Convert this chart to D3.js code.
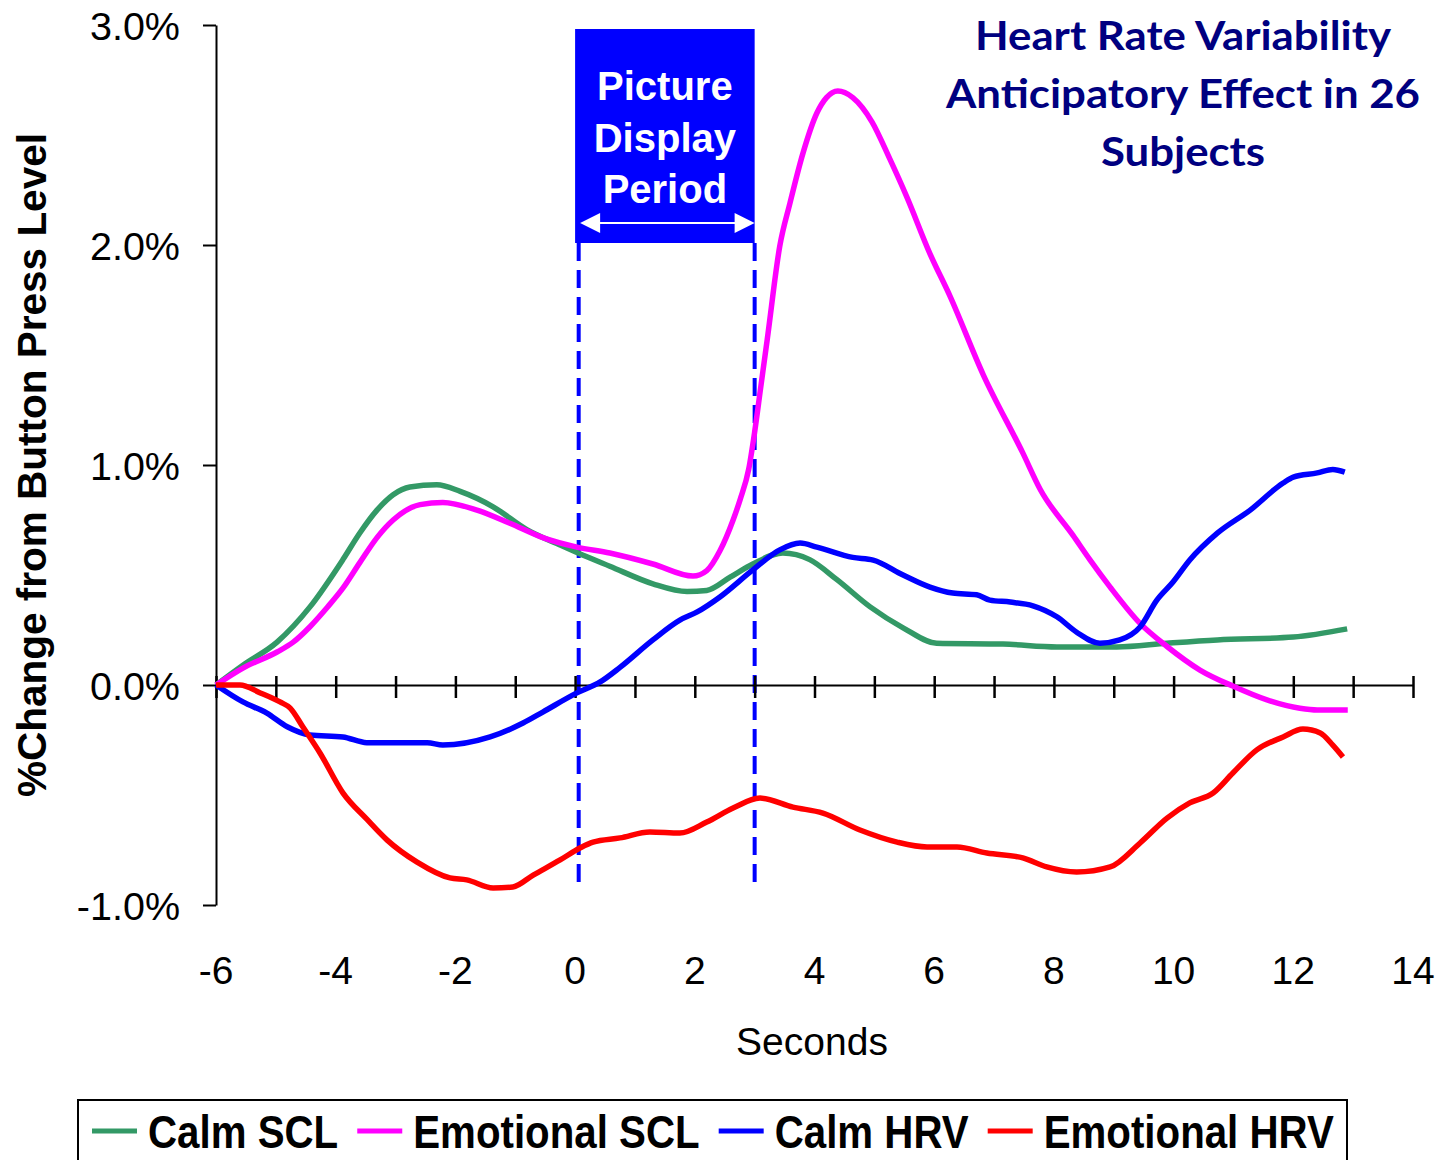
<!DOCTYPE html>
<html><head><meta charset="utf-8">
<script src="https://cdn.jsdelivr.net/npm/d3@7"></script>
<style>body{margin:0;background:#fff}svg{display:block}</style>
</head><body><svg id="c" width="1441" height="1160"></svg>
<script>
// ---------- data ----------
const xTickValues = d3.range(-6, 15, 1);
const xLabelValues = [-6, -4, -2, 0, 2, 4, 6, 8, 10, 12, 14];
const yTickValues = [-1, 0, 1, 2, 3];
const titleLines = ["Heart Rate Variability", "Anticipatory Effect in 26", "Subjects"];
const boxLines = ["Picture", "Display", "Period"];
const displayPeriod = [0, 3];          // box span (seconds)
const periodMarkers = [0.06, 3.0];     // dashed markers (seconds)
const seriesNames = ["Calm SCL", "Emotional SCL", "Calm HRV", "Emotional HRV"];
const seriesColors = ["#339966", "#FF00FF", "#0000FF", "#FF0000"];

const calmSCL = [[-6,0],[-5.55,0.09],[-4.98,0.195],[-4.43,0.355],[-3.88,0.57],[-3.6,0.69],[-3.31,0.795],[-3.04,0.865],[-2.76,0.9],[-2.31,0.91],[-1.92,0.88],[-1.37,0.81],[-0.8,0.705],[-0.25,0.636],[0.05,0.6],[0.58,0.54],[1.3,0.46],[1.87,0.425],[2.2,0.43],[2.59,0.49],[2.97,0.55],[3.47,0.6],[3.92,0.57],[4.37,0.48],[4.93,0.355],[5.48,0.26],[6.04,0.19],[7.15,0.186],[8.05,0.173],[9.05,0.173],[9.89,0.19],[10.73,0.205],[12.0,0.218],[12.9,0.255]];
const emotionalSCL = [[-6,0],[-5.55,0.077],[-4.98,0.15],[-4.71,0.195],[-4.43,0.265],[-4.15,0.35],[-3.88,0.44],[-3.6,0.555],[-3.31,0.67],[-3.04,0.75],[-2.59,0.82],[-2.21,0.83],[-1.64,0.795],[-1.09,0.735],[-0.54,0.67],[0.03,0.627],[0.58,0.6],[1.3,0.55],[1.97,0.495],[2.2,0.52],[2.42,0.61],[2.64,0.75],[2.76,0.845],[2.9,0.98],[3.0,1.15],[3.1,1.35],[3.21,1.57],[3.42,1.995],[3.59,2.19],[3.81,2.42],[4.04,2.6],[4.2,2.67],[4.39,2.7],[4.64,2.67],[4.96,2.56],[5.26,2.39],[5.54,2.22],[5.93,1.96],[6.26,1.77],[6.82,1.41],[7.48,1.055],[7.77,0.89],[8.32,0.68],[8.6,0.57],[8.94,0.445],[9.44,0.28],[9.89,0.175],[10.44,0.068],[10.99,-0.005],[11.56,-0.068],[12.11,-0.106],[12.4,-0.114],[12.91,-0.114]];
const calmHRV = [[-6,0],[-5.55,-0.077],[-5.15,-0.128],[-4.81,-0.19],[-4.43,-0.227],[-3.88,-0.236],[-3.48,-0.262],[-2.47,-0.262],[-2.21,-0.273],[-1.42,-0.236],[-0.87,-0.173],[-0.54,-0.123],[0.03,-0.036],[0.42,0.014],[0.75,0.08],[1.3,0.205],[1.75,0.295],[2.04,0.332],[2.42,0.4],[2.97,0.523],[3.42,0.614],[3.76,0.645],[4.04,0.627],[4.64,0.58],[4.98,0.568],[5.48,0.5],[5.93,0.445],[6.31,0.418],[6.71,0.41],[6.93,0.386],[7.27,0.377],[7.65,0.36],[8.05,0.31],[8.38,0.24],[8.77,0.19],[9.1,0.205],[9.44,0.264],[9.72,0.386],[9.99,0.468],[10.27,0.568],[10.73,0.69],[11.28,0.795],[11.83,0.918],[12.0,0.945],[12.4,0.964],[12.66,0.98],[12.86,0.968]];
const emotionalHRV = [[-6,0],[-5.6,0],[-5.26,-0.036],[-4.93,-0.077],[-4.76,-0.105],[-4.55,-0.19],[-4.26,-0.31],[-3.88,-0.49],[-3.48,-0.61],[-3.14,-0.705],[-2.64,-0.805],[-2.09,-0.877],[-1.81,-0.886],[-1.37,-0.923],[-1.04,-0.918],[-0.7,-0.864],[-0.25,-0.795],[0.08,-0.741],[0.3,-0.714],[0.75,-0.695],[1.25,-0.668],[1.75,-0.673],[2.2,-0.623],[2.64,-0.559],[3.09,-0.514],[3.64,-0.555],[4.14,-0.582],[4.76,-0.659],[5.38,-0.714],[5.88,-0.736],[6.38,-0.736],[6.88,-0.764],[7.48,-0.786],[7.88,-0.827],[8.38,-0.85],[8.94,-0.827],[9.44,-0.718],[9.89,-0.605],[10.27,-0.536],[10.66,-0.491],[10.99,-0.4],[11.39,-0.295],[11.83,-0.236],[12.16,-0.2],[12.45,-0.218],[12.66,-0.273],[12.83,-0.327]];
const seriesData = [calmSCL, emotionalSCL, calmHRV, emotionalHRV];

// ---------- chart ----------
const svg = d3.select("#c");
const FONT = "'Liberation Sans', Arial, sans-serif";
const x = d3.scaleLinear().domain([-6, 14]).range([216, 1413]);
const y = d3.scaleLinear().domain([-1, 3]).range([905, 25]);

// picture display box
const bx0 = x(displayPeriod[0]), bx1 = x(displayPeriod[1]);
svg.append("rect").attr("x", bx0).attr("y", 29).attr("width", bx1 - bx0).attr("height", 214).attr("fill", "#0000FF");
const bcx = (bx0 + bx1) / 2;
svg.selectAll(".boxt").data(boxLines).join("text")
  .attr("x", bcx).attr("y", (d, i) => 100 + i * 51.5)
  .attr("text-anchor", "middle").attr("font-family", FONT).attr("font-weight", "bold")
  .attr("font-size", 40).attr("fill", "#fff").text(d => d);
// double arrow
const ay = 223, al = bx0 + 5, ar = bx1;
svg.append("line").attr("x1", al + 16).attr("x2", ar - 16).attr("y1", ay).attr("y2", ay).attr("stroke", "#fff").attr("stroke-width", 2);
svg.append("path").attr("d", `M${al},${ay} L${al + 20},${ay - 10} L${al + 20},${ay + 10} Z`).attr("fill", "#fff");
svg.append("path").attr("d", `M${ar},${ay} L${ar - 20},${ay - 10} L${ar - 20},${ay + 10} Z`).attr("fill", "#fff");

// dashed markers
svg.selectAll(".mk").data(periodMarkers).join("line")
  .attr("x1", d => x(d)).attr("x2", d => x(d)).attr("y1", 243).attr("y2", 886)
  .attr("stroke", "#0000FF").attr("stroke-width", 4).attr("stroke-dasharray", "18,9");

// y axis
const yAxis = svg.append("g").attr("transform", `translate(${x(-6)},0)`)
  .call(d3.axisLeft(y).tickValues(yTickValues).tickSizeInner(13).tickSizeOuter(0).tickPadding(23)
    .tickFormat(d => d.toFixed(1) + "%"));
yAxis.select(".domain").attr("stroke", "#000").attr("stroke-width", 2);
yAxis.selectAll(".tick line").attr("stroke", "#000").attr("stroke-width", 2);
yAxis.selectAll(".tick text").attr("font-family", FONT).attr("font-size", 39.5).attr("fill", "#000").attr("dy", "0.37em");

// x axis at y=0
const xAxis = svg.append("g").attr("transform", `translate(0,${y(0)})`)
  .call(d3.axisBottom(x).tickValues(xTickValues).tickSizeInner(13).tickSizeOuter(0).tickFormat(""));
xAxis.select(".domain").attr("stroke", "#000").attr("stroke-width", 2);
xAxis.selectAll(".tick line").attr("stroke", "#000").attr("stroke-width", 2.5).attr("y1", -9);

// x labels at bottom
svg.selectAll(".xl").data(xLabelValues).join("text")
  .attr("x", d => x(d)).attr("y", 984).attr("text-anchor", "middle")
  .attr("font-family", FONT).attr("font-size", 39).attr("fill", "#000").text(d => d);

svg.append("text").attr("x", 812).attr("y", 1055).attr("text-anchor", "middle")
  .attr("font-family", FONT).attr("font-size", 39).text("Seconds");

svg.append("text").attr("transform", "translate(46,465) rotate(-90)").attr("text-anchor", "middle")
  .attr("font-family", FONT).attr("font-weight", "bold").attr("font-size", 40.5).text("%Change from Button Press Level");

// series
const line = d3.line().x(d => x(d[0])).y(d => y(d[1])).curve(d3.curveMonotoneX);
svg.selectAll(".series").data(seriesData).join("path")
  .attr("d", line).attr("fill", "none")
  .attr("stroke", (d, i) => seriesColors[i]).attr("stroke-width", 5.5)
  .attr("stroke-linejoin", "round").attr("stroke-linecap", "butt");

// title
const tg = svg.append("g");
const tt = tg.selectAll("text").data(titleLines).join("text")
  .attr("text-anchor", "middle").attr("font-family", "Lato, sans-serif").attr("font-weight", "bold")
  .attr("font-size", 40).attr("fill", "#000080").text(d => d);
const w2 = tt.nodes()[1].getComputedTextLength();
const tsx = 474 / w2;
tt.attr("transform", (d, i) => `translate(1183,${50 + i * 58}) scale(${tsx},1)`);

// legend
svg.append("rect").attr("x", 78).attr("y", 1100).attr("width", 1269).attr("height", 90)
  .attr("fill", "#fff").attr("stroke", "#000").attr("stroke-width", 2);
const lsx = 0.857;
let lx = 92;
seriesNames.forEach((name, i) => {
  svg.append("line").attr("x1", lx).attr("x2", lx + 45).attr("y1", 1131).attr("y2", 1131)
    .attr("stroke", seriesColors[i]).attr("stroke-width", 5);
  const t = svg.append("text").attr("font-family", FONT).attr("font-weight", "bold")
    .attr("font-size", 47).attr("fill", "#000").text(name);
  const w = t.node().getComputedTextLength() * lsx;
  t.attr("transform", `translate(${lx + 56},1148) scale(${lsx},1)`);
  lx = lx + 56 + w + 19;
});
</script></body></html>
